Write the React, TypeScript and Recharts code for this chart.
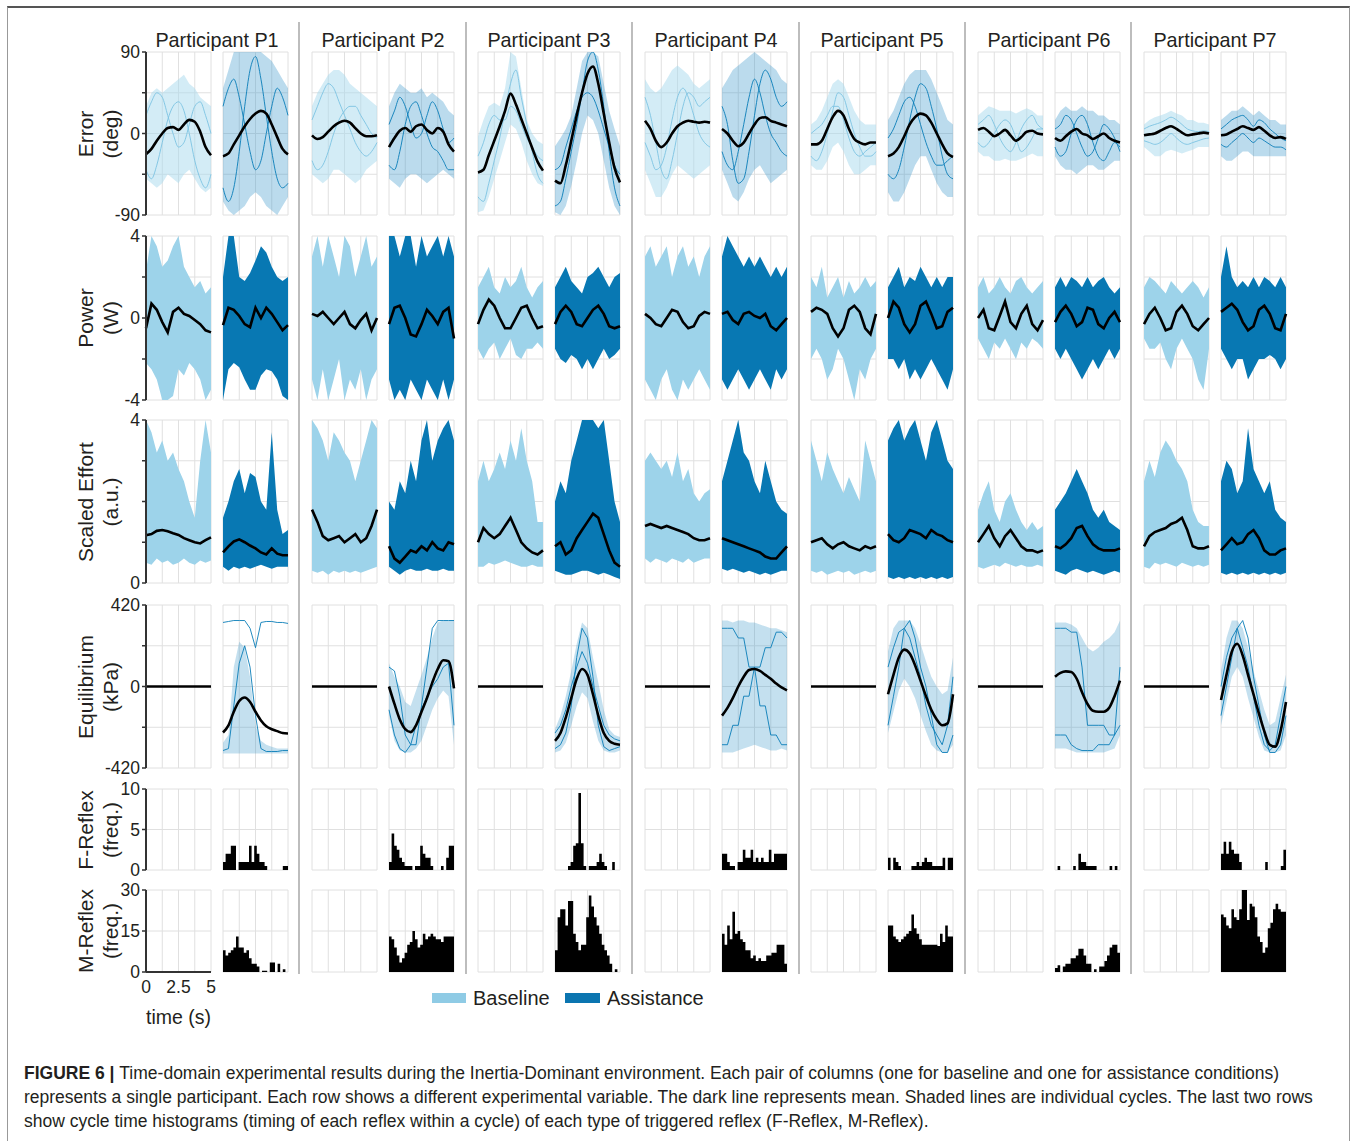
import React from 'react';
import { ComposedChart, Line, Area, XAxis, YAxis, CartesianGrid } from 'recharts';

const FONT = '"Liberation Sans", Arial, Helvetica, sans-serif';
const LIGHT = '#9dd3ea';
const DARK = '#0878b3';
const INK = '#231f20';

// ---------- axes ----------
const TIME = [0, 0.42, 0.83, 1.25, 1.67, 2.08, 2.5, 2.92, 3.33, 3.75, 4.17, 4.58, 5];
const HIST_EDGES = [0, 0.2, 0.4, 0.6, 0.8, 1, 1.2, 1.4, 1.6, 1.8, 2, 2.2, 2.4, 2.6, 2.8, 3, 3.2, 3.4, 3.6, 3.8, 4, 4.2, 4.4, 4.6, 4.8, 5];
const TIME_TICKS = [0, 1.25, 2.5, 3.75, 5];
const TIME_TICK_LABELS = ['0', '', '2.5', '', '5'];

const PARTICIPANTS = ['Participant P1', 'Participant P2', 'Participant P3', 'Participant P4', 'Participant P5', 'Participant P6', 'Participant P7'];

const ERR_TICKS = [-90, -45, 0, 45, 90];
const ERR_TICK_LABELS = ['-90', '', '0', '', '90'];
const PW_TICKS = [-4, -2, 0, 2, 4];
const PW_TICK_LABELS = ['-4', '', '0', '', '4'];
const EF_TICKS = [0, 1, 2, 3, 4];
const EF_TICK_LABELS = ['0', '', '', '', '4'];
const EQ_TICKS = [-420, -210, 0, 210, 420];
const EQ_TICK_LABELS = ['-420', '', '0', '', '420'];
const FR_TICKS = [0, 5, 10];
const FR_TICK_LABELS = ['0', '5', '10'];
const MR_TICKS = [0, 15, 30];
const MR_TICK_LABELS = ['0', '15', '30'];

// ---------- Error (deg) ----------
const errMeanBase = [
  [-23, -17, -8, 0, 6, 7, 4, 10, 15, 13, 2, -15, -24],
  [-2, -6, -4, 2, 8, 12, 14, 12, 6, 0, -3, -3, -2],
  [-43, -40, -24, -8, 8, 25, 44, 32, 16, 0, -16, -31, -41],
  [14, 5, -8, -15, -10, 0, 8, 12, 14, 13, 12, 13, 12],
  [-12, -12, -8, 5, 18, 25, 20, 5, -6, -10, -12, -10, -10],
  [4, 6, 2, -3, 0, 4, -2, -8, -4, 2, 3, 0, -1],
  [-2, -1, 0, 3, 6, 8, 5, 1, -2, -1, 0, 1, 0],
];
const errLoBase = [
  [-50, -55, -60, -55, -45, -50, -55, -45, -40, -50, -60, -65, -60],
  [-45, -50, -55, -50, -40, -40, -45, -50, -55, -50, -40, -35, -30],
  [-87, -85, -70, -50, -30, -10, 10, 5, -10, -30, -45, -55, -58],
  [-40, -55, -70, -70, -60, -45, -35, -40, -45, -50, -45, -40, -35],
  [-35, -40, -40, -30, -15, -10, -20, -35, -45, -45, -40, -35, -35],
  [-20, -25, -25, -30, -30, -28, -30, -30, -28, -25, -22, -25, -25],
  [-15, -20, -25, -25, -20, -18, -20, -22, -20, -18, -15, -15, -15],
];
const errHiBase = [
  [30, 45, 50, 45, 50, 55, 60, 65, 55, 50, 40, 35, 30],
  [30, 45, 55, 65, 70, 70, 65, 55, 50, 45, 40, 35, 30],
  [-3, 15, 30, 34, 30, 50, 90, 85, 50, 15, 0, -8, -12],
  [60, 50, 45, 50, 60, 70, 75, 70, 65, 55, 50, 55, 60],
  [10, 15, 25, 40, 55, 60, 55, 40, 25, 15, 10, 10, 10],
  [20, 25, 30, 28, 25, 25, 25, 22, 25, 28, 25, 20, 20],
  [10, 15, 18, 20, 22, 25, 22, 20, 15, 15, 12, 12, 10],
];
const errTraceBase = [
  [[20, 35, 45, 40, 20, 0, -15, -10, 10, 30, 35, 20, 0], [-40, -50, -35, -10, 15, 30, 35, 25, 0, -30, -50, -60, -45]],
  [[15, 30, 45, 55, 50, 35, 20, 5, -10, -20, -25, -20, -10], [-30, -40, -35, -20, 0, 15, 25, 30, 30, 20, 10, 0, -5]],
  [[-70, -75, -55, -30, -5, 25, 55, 70, 40, 10, -20, -45, -55], [-25, -10, 10, 20, 15, 15, 30, 25, 10, -5, -15, -25, -30]],
  [[40, 20, -10, -40, -50, -30, 0, 30, 45, 40, 30, 35, 40], [-10, -25, -40, -35, -15, 15, 40, 50, 40, 20, 0, -10, -15]],
  [[-25, -30, -20, 0, 25, 45, 40, 20, 0, -15, -25, -25, -20], [0, 5, 10, 20, 30, 30, 15, -5, -20, -25, -20, -15, -10]],
  [[10, 15, 20, 10, -5, -15, -20, -10, 5, 15, 20, 10, 5], [-10, -15, -10, 0, 10, 15, 10, -5, -20, -15, -5, 5, 5]],
  [[5, 8, 10, 12, 15, 18, 15, 10, 5, 3, 2, 3, 2], [-8, -10, -12, -10, -5, 0, -5, -10, -12, -10, -8, -6, -5]],
];
const errMeanAssist = [
  [-25, -22, -12, -2, 8, 16, 22, 25, 22, 10, -4, -17, -23],
  [-15, -5, 3, 6, 2, 8, 10, 4, 0, 6, 2, -12, -20],
  [-52, -55, -35, -8, 20, 45, 66, 74, 55, 22, -10, -38, -54],
  [5, 0, -8, -14, -10, 0, 10, 17, 18, 14, 12, 10, 8],
  [-25, -22, -15, -3, 10, 18, 22, 20, 12, 0, -12, -22, -26],
  [-5, -8, -3, 2, 5, 0, -2, -6, -3, 0, -5, -8, -10],
  [-2, -1, 2, 5, 8, 6, 4, 7, 3, -2, -5, -4, -6],
];
const errLoAssist = [
  [-75, -85, -90, -85, -80, -70, -65, -70, -80, -85, -90, -80, -70],
  [-50, -55, -60, -50, -45, -45, -50, -55, -50, -45, -40, -45, -50],
  [-87, -90, -80, -58, -30, 0, 20, 15, 0, -30, -60, -80, -90],
  [-40, -55, -70, -75, -65, -50, -40, -35, -45, -55, -50, -45, -40],
  [-65, -75, -75, -65, -50, -35, -25, -25, -40, -55, -65, -70, -70],
  [-25, -35, -40, -40, -45, -40, -35, -35, -40, -40, -35, -30, -30],
  [-25, -30, -30, -25, -20, -20, -25, -25, -25, -25, -25, -25, -25],
];
const errHiAssist = [
  [50, 70, 90, 90, 90, 90, 90, 90, 85, 80, 70, 60, 50],
  [30, 45, 55, 50, 45, 45, 50, 40, 45, 40, 35, 25, 20],
  [-14, -5, 5, 20, 50, 80, 90, 90, 85, 55, 25, 5, -14],
  [50, 60, 70, 75, 80, 85, 90, 85, 80, 75, 70, 60, 55],
  [15, 25, 40, 55, 65, 70, 70, 70, 60, 45, 30, 15, 10],
  [15, 25, 30, 25, 25, 30, 25, 25, 20, 20, 15, 15, 10],
  [15, 20, 25, 25, 30, 25, 20, 25, 20, 15, 15, 10, 10],
];
const errTraceAssist = [
  [[-60, -75, -60, -20, 30, 70, 85, 60, 20, -20, -50, -60, -55], [30, 50, 60, 40, 10, -20, -40, -30, 0, 30, 50, 40, 20]],
  [[-35, -40, -20, 10, 30, 35, 20, 0, -15, -20, -30, -40, -40], [10, 25, 40, 30, 10, -5, 0, 20, 35, 25, 5, -10, -5]],
  [[-80, -75, -50, -20, 10, 45, 80, 90, 70, 30, -20, -60, -80], [-40, -35, -15, 5, 25, 40, 45, 40, 25, 5, -15, -35, -45]],
  [[30, 10, -30, -55, -50, -20, 20, 55, 70, 60, 40, 30, 35], [-20, -35, -40, -20, 10, 40, 60, 45, 20, 0, -10, -20, -25]],
  [[-45, -50, -40, -15, 15, 40, 55, 50, 30, 5, -25, -45, -50], [-5, 5, 20, 35, 40, 30, 10, -10, -25, -35, -35, -30, -25]],
  [[-15, -25, -20, 0, 15, 20, 10, -10, -25, -30, -20, -10, -15], [5, 10, 20, 15, 0, -15, -25, -20, -5, 10, 5, -5, -20]],
  [[5, 10, 15, 18, 20, 15, 8, 15, 12, 5, 0, -5, -8], [-12, -15, -10, -5, 0, -5, -10, -5, -8, -12, -15, -15, -18]],
];

// ---------- Power (W) ----------
const pwMeanBase = [
  [-0.5, 0.7, 0.4, -0.2, -0.7, 0.3, 0.5, 0.2, 0.1, -0.1, -0.3, -0.6, -0.7],
  [0.2, 0.1, 0.3, 0, -0.3, 0, 0.3, -0.3, -0.5, -0.1, 0.2, -0.6, 0],
  [-0.3, 0.4, 0.9, 0.6, 0, -0.5, -0.5, 0, 0.5, 0.6, 0, -0.5, -0.4],
  [0.2, 0, -0.3, -0.4, 0, 0.4, 0.3, -0.2, -0.5, -0.4, 0.1, 0.3, 0.2],
  [0.3, 0.5, 0.4, 0.2, -0.5, -0.9, -0.5, 0.4, 0.6, 0.3, -0.5, -0.8, 0.2],
  [0, 0.4, -0.5, -0.6, 0.1, 0.8, -0.2, -0.5, 0.2, 0.6, -0.3, -0.6, -0.1],
  [-0.3, 0.2, 0.5, 0, -0.6, -0.5, 0.3, 0.6, 0.2, -0.4, -0.6, -0.3, 0],
];
const pwHiBase = [
  [2.3, 4, 3.5, 2.5, 2.8, 3.5, 4, 2.5, 2, 1.5, 1.8, 1.2, 1.5],
  [3, 4, 2.5, 4, 3, 2, 4, 3.5, 2, 3, 4, 2.5, 3],
  [1.5, 2, 2.5, 1.5, 1.2, 2, 1.5, 1.8, 2.5, 1.5, 1, 1.5, 1.8],
  [3, 3.5, 2.5, 3, 3.5, 2, 3, 3.5, 2.5, 3, 2, 3, 3.5],
  [2, 1.5, 2.5, 1, 1.5, 2, 1, 1.8, 1.2, 1.5, 2, 1.5, 1.8],
  [1.5, 2, 1.2, 1.5, 2, 1.5, 1.2, 1.8, 2, 1.5, 1.2, 1.5, 1.8],
  [1.5, 2, 1.8, 1.5, 1.2, 1.8, 1.5, 1.2, 1.5, 1.8, 1.5, 1, 1.5],
];
const pwLoBase = [
  [-2.2, -2.5, -3, -4, -4, -3.8, -2.5, -2.8, -2.2, -2.5, -3, -4, -3.5],
  [-3, -4, -2.5, -4, -3, -2, -4, -3, -3.5, -2.5, -4, -3, -2.5],
  [-1.5, -2, -1.5, -1.2, -2, -1.5, -1, -1.8, -2, -1.5, -1.5, -1.2, -1.5],
  [-3, -3.5, -4, -3, -2.5, -3.5, -4, -3, -3.5, -3, -2.5, -3, -3.5],
  [-2, -1.5, -2, -3, -2.5, -1.5, -2, -3, -4, -2.5, -3, -2, -1.5],
  [-1, -1.5, -2, -1.2, -1.5, -1, -1.5, -2, -1.2, -1.5, -1, -1.2, -1.5],
  [-1, -1.5, -1.5, -1.2, -2, -2.5, -1.5, -1, -1.5, -2, -3, -3.5, -1.5],
];
const pwMeanAssist = [
  [-0.35, 0.5, 0.4, 0.1, -0.3, -0.45, 0.5, 0, 0.5, 0.2, -0.2, -0.6, -0.35],
  [-0.3, 0.5, 0.6, 0, -0.8, -0.9, -0.3, 0.4, 0.1, -0.3, 0.3, 0.5, -1.0],
  [-0.3, 0.3, 0.6, 0.3, -0.3, -0.4, 0, 0.4, 0.6, 0.2, -0.4, -0.5, -0.4],
  [0.2, 0.3, -0.1, -0.3, 0.2, 0.3, 0.1, 0, 0.2, -0.4, -0.6, -0.3, 0],
  [0, 0.8, 0.5, -0.3, -0.7, -0.3, 0.6, 0.8, 0.2, -0.5, -0.4, 0.3, 0.5],
  [-0.2, 0.3, 0.6, 0.2, -0.4, -0.2, 0.5, 0.4, -0.3, -0.5, 0, 0.3, -0.2],
  [0.3, 0.5, 0.7, 0.4, -0.2, -0.6, -0.4, 0.4, 0.6, 0.2, -0.5, -0.6, 0.2],
];
const pwHiAssist = [
  [2, 4, 4, 2, 1.8, 2.2, 2.8, 3.5, 3.2, 2.5, 2, 1.8, 2],
  [4, 4, 3, 4, 4, 2.5, 4, 3, 3.5, 4, 3, 4, 3],
  [1.5, 2, 2.5, 1.8, 1.5, 1.2, 2, 2.2, 2.5, 2, 1.5, 2, 2.2],
  [3, 4, 3.5, 3, 2.5, 3, 2.5, 3, 2.5, 2, 2.5, 2, 2.5],
  [1.5, 2, 2.5, 1.5, 2, 1.8, 2.5, 2, 1.5, 2, 1.5, 2, 2],
  [1.5, 2, 1.5, 2, 1.8, 1.5, 2, 1.5, 1.8, 2, 1.5, 1.2, 1.5],
  [2, 3.5, 2, 1.5, 1.8, 1.5, 2, 1.5, 2, 1.8, 1.5, 2, 1.5],
];
const pwLoAssist = [
  [-4, -2.5, -2.2, -2.4, -3, -3.5, -3.5, -2.8, -2.5, -2.6, -3, -3.8, -4],
  [-3, -4, -3.5, -4, -3, -3.5, -4, -3, -3.5, -4, -3, -4, -3],
  [-1.5, -2, -2.2, -1.8, -2, -2.5, -2, -2.5, -2, -1.5, -2, -1.8, -1.5],
  [-3, -3.5, -3, -2.5, -3, -3.5, -3, -2.5, -3, -3.5, -2.5, -3, -2.5],
  [-2, -2, -2.5, -2, -3, -2.5, -3, -2.5, -2, -2.5, -3, -3.5, -2.5],
  [-1.5, -2, -1.5, -2, -2.5, -3, -2.5, -2, -2.5, -2, -1.5, -2, -1.5],
  [-1.5, -2, -2.5, -2, -2, -3, -2.5, -2, -2, -1.8, -2, -2.5, -2],
];

// ---------- Scaled Effort (a.u.) ----------
const efMeanBase = [
  [1.17, 1.2, 1.28, 1.3, 1.27, 1.22, 1.18, 1.1, 1.05, 1.0, 0.97, 1.05, 1.12],
  [1.8, 1.5, 1.15, 1.05, 1.1, 1.15, 1.0, 1.1, 1.2, 1.0, 1.1, 1.4, 1.8],
  [1.0, 1.35, 1.2, 1.1, 1.2, 1.4, 1.6, 1.3, 1.0, 0.85, 0.75, 0.7, 0.8],
  [1.4, 1.45, 1.4, 1.35, 1.4, 1.35, 1.3, 1.25, 1.2, 1.1, 1.05, 1.05, 1.1],
  [1.0, 1.05, 1.1, 0.95, 0.85, 0.95, 1.0, 0.9, 0.85, 0.8, 0.9, 0.85, 0.9],
  [1.0, 1.2, 1.4, 1.1, 0.9, 1.15, 1.3, 1.1, 0.9, 0.8, 0.8, 0.75, 0.8],
  [0.9, 1.15, 1.25, 1.3, 1.35, 1.45, 1.5, 1.6, 1.3, 0.9, 0.85, 0.85, 0.9],
];
const efHiBase = [
  [4, 3.7, 3.2, 3.5, 3, 3.2, 2.8, 2.5, 2.0, 1.6, 3.0, 4, 3.2],
  [4, 3.8, 3.5, 3, 3.7, 3.5, 3.2, 3, 2.5, 3, 3.5, 4, 3.8],
  [2.5, 3, 2.5, 2.8, 3.2, 2.8, 3.5, 3, 3.8, 3.0, 2.5, 1.5, 1.5],
  [3, 3.2, 3, 2.8, 3, 2.6, 3.2, 2.5, 2.8, 2.2, 2.0, 2.2, 2.3],
  [3.5, 3, 2.5, 3.2, 2.8, 2.5, 2.2, 2.6, 2.3, 2, 3.5, 3, 2.5],
  [1.8, 2.2, 2.5, 1.8, 1.5, 2.0, 2.2, 1.8, 1.5, 1.3, 1.5, 1.3, 1.4],
  [2.5, 3.0, 2.6, 3.2, 3.5, 3.3, 3.0, 2.8, 2.5, 1.8, 1.5, 1.4, 1.4],
];
const efLoBase = [
  [0.5, 0.45, 0.6, 0.5, 0.55, 0.45, 0.5, 0.6, 0.5, 0.45, 0.55, 0.5, 0.55],
  [0.3, 0.25, 0.3, 0.2, 0.3, 0.25, 0.3, 0.25, 0.3, 0.25, 0.3, 0.35, 0.4],
  [0.4, 0.4, 0.5, 0.45, 0.5, 0.55, 0.5, 0.45, 0.4, 0.4, 0.45, 0.4, 0.4],
  [0.6, 0.5, 0.6, 0.55, 0.5, 0.6, 0.55, 0.5, 0.6, 0.5, 0.55, 0.6, 0.6],
  [0.3, 0.25, 0.3, 0.2, 0.25, 0.3, 0.25, 0.3, 0.2, 0.25, 0.3, 0.25, 0.3],
  [0.4, 0.35, 0.4, 0.45, 0.4, 0.5, 0.45, 0.4, 0.45, 0.4, 0.4, 0.45, 0.4],
  [0.4, 0.35, 0.5, 0.45, 0.5, 0.45, 0.4, 0.5, 0.45, 0.4, 0.45, 0.4, 0.45],
];
const efMeanAssist = [
  [0.75, 0.9, 1.02, 1.07, 1.0, 0.92, 0.85, 0.75, 0.7, 0.85, 0.72, 0.68, 0.68],
  [0.9, 0.6, 0.5, 0.65, 0.8, 0.75, 0.9, 0.8, 1.0, 0.85, 0.8, 1.0, 0.95],
  [0.9, 1.0, 0.7, 0.8, 1.1, 1.3, 1.5, 1.7, 1.6, 1.2, 0.8, 0.5, 0.4],
  [1.1, 1.05, 1.0, 0.95, 0.9, 0.85, 0.8, 0.75, 0.65, 0.6, 0.6, 0.75, 0.9],
  [1.2, 1.05, 1.0, 1.1, 1.3, 1.25, 1.2, 1.1, 1.3, 1.2, 1.15, 1.05, 1.0],
  [0.9, 0.85, 0.95, 1.1, 1.35, 1.4, 1.15, 0.95, 0.85, 0.8, 0.8, 0.8, 0.85],
  [0.8, 0.95, 1.1, 0.95, 1.0, 1.2, 1.3, 1.1, 0.8, 0.7, 0.7, 0.8, 0.85],
];
const efHiAssist = [
  [1.6, 2.0, 2.5, 2.8, 2.2, 2.7, 2.6, 2.0, 1.8, 3.7, 1.8, 1.2, 1.3],
  [2, 1.8, 2.5, 2.2, 3, 2.5, 3.5, 4, 3.0, 3.5, 3.8, 4, 3.5],
  [2, 2.5, 2.2, 3, 3.5, 4, 4, 4, 3.8, 4, 3, 2, 1.5],
  [2.5, 3, 3.5, 4, 3.2, 3, 2.5, 2.2, 3, 2.5, 2, 1.8, 1.7],
  [3.5, 3.8, 4, 3.5, 3.8, 4, 3.5, 3, 3.7, 4, 3.5, 3, 2.8],
  [1.8, 2, 2.2, 2.5, 2.8, 2.5, 2.2, 1.8, 1.6, 1.8, 1.5, 1.4, 1.3],
  [2.5, 3, 2.8, 2.2, 2.5, 3.8, 2.8, 2.5, 2.2, 2.5, 1.8, 1.6, 1.5],
];
const efLoAssist = [
  [0.4, 0.3, 0.4, 0.35, 0.4, 0.35, 0.4, 0.45, 0.4, 0.35, 0.4, 0.4, 0.4],
  [0.4, 0.3, 0.2, 0.3, 0.35, 0.3, 0.3, 0.35, 0.3, 0.3, 0.35, 0.3, 0.3],
  [0.3, 0.25, 0.2, 0.2, 0.25, 0.3, 0.3, 0.25, 0.2, 0.25, 0.2, 0.15, 0.1],
  [0.35, 0.3, 0.35, 0.3, 0.25, 0.3, 0.25, 0.2, 0.25, 0.2, 0.25, 0.3, 0.3],
  [0.15, 0.1, 0.15, 0.1, 0.15, 0.1, 0.15, 0.1, 0.15, 0.1, 0.15, 0.1, 0.15],
  [0.3, 0.25, 0.2, 0.3, 0.35, 0.3, 0.25, 0.3, 0.25, 0.2, 0.25, 0.3, 0.25],
  [0.25, 0.2, 0.25, 0.2, 0.25, 0.2, 0.25, 0.2, 0.25, 0.2, 0.25, 0.2, 0.25],
];

// ---------- Equilibrium (kPa) ----------
const eqMeanBase = [0, 0, 0, 0, 0, 0, 0, 0, 0, 0, 0, 0, 0];
const eqMeanAssist = [
  [-237, -200, -130, -75, -57, -80, -130, -175, -205, -220, -230, -240, -242],
  [0, -90, -170, -220, -235, -200, -130, -60, 20, 90, 135, 130, -10],
  [-280, -240, -160, -60, 40, 90, 60, -40, -150, -240, -280, -295, -300],
  [-150, -110, -60, 0, 50, 85, 90, 80, 60, 40, 15, -5, -20],
  [-40, 60, 150, 190, 170, 110, 30, -50, -120, -170, -200, -190, -40],
  [50, 70, 78, 75, 40, -30, -90, -125, -130, -130, -110, -50, 30],
  [-70, 60, 180, 220, 160, 60, -40, -140, -230, -300, -310, -230, -80],
];
const eqLoAssist = [
  [-345, -345, -345, -345, -345, -345, -345, -345, -345, -345, -345, -345, -345],
  [-150, -280, -330, -340, -340, -320, -280, -200, -120, -60, -20, -50, -300],
  [-340, -330, -290, -200, -100, -30, -60, -180, -280, -330, -340, -340, -330],
  [-340, -340, -340, -330, -320, -310, -300, -310, -320, -330, -330, -320, -330],
  [-240, -130, -20, 40, 0, -60, -150, -230, -300, -330, -340, -340, -300],
  [-320, -320, -320, -330, -340, -340, -340, -340, -340, -340, -330, -320, -250],
  [-200, -80, 50, 100, 50, -60, -160, -260, -330, -340, -340, -330, -250],
];
const eqHiAssist = [
  [-290, -250, 100, 230, 200, 50, -200, -280, -300, -310, -320, -320, -320],
  [120, 50, 0, -80, -100, -20, 60, 150, 250, 330, 340, 340, 340],
  [-220, -150, -50, 80, 220, 330, 300, 150, 20, -120, -220, -250, -260],
  [340, 340, 330, 340, 340, 330, 330, 320, 310, 300, 300, 290, 280],
  [180, 300, 340, 340, 340, 300, 220, 130, 50, 0, -40, -20, 150],
  [330, 330, 330, 320, 300, 250, 200, 180, 200, 230, 250, 280, 340],
  [80, 250, 340, 340, 300, 200, 80, -20, -120, -200, -180, -60, 60],
];
const eqTraceAssist = [
  [[330, 335, 340, 340, 340, 300, 200, 330, 335, 335, 330, 330, 325], [-330, -320, -100, 120, 210, 100, -150, -320, -335, -335, -335, -330, -330]],
  [[100, 80, -50, -250, -300, -300, -100, 100, 300, 340, 340, 340, 340], [-120, -250, -320, -340, -300, -200, -120, -50, 0, 40, 100, 120, -200]],
  [[-320, -300, -240, -100, 150, 300, 250, 50, -200, -310, -330, -320, -310], [-240, -200, -120, 0, 100, 180, 120, 0, -100, -200, -250, -270, -280]],
  [[300, 300, 300, 250, 250, 100, 100, -100, -100, -250, -250, -300, -300], [-300, -300, -200, -200, -50, -50, 100, 100, 200, 200, 280, 280, 250]],
  [[-200, -50, 100, 300, 340, 250, 100, 0, -150, -300, -340, -340, -250], [100, 200, 280, 300, 250, 150, 50, -100, -200, -250, -300, -200, 50]],
  [[300, 300, 300, 280, 280, 100, -200, -200, -200, -200, -250, -250, 100], [-250, -250, -250, -300, -320, -330, -330, -330, -300, -300, -300, -250, -200]],
  [[-150, 0, 150, 300, 340, 250, 50, -100, -250, -340, -340, -300, -150], [0, 150, 250, 300, 200, 100, -50, -200, -300, -330, -300, -150, 0]],
];

// ---------- reflex histograms (assistance only; baseline has none) ----------
const frAssist = [
  [1, 2, 2, 3, 3, 0, 1, 1, 1, 1, 3, 1, 3, 2, 1, 1, 0.5, 0, 0, 0, 0, 0, 0, 0.5, 0.5],
  [1, 4.5, 3, 2.5, 1.5, 1, 0.5, 0.5, 0.5, 0, 0.5, 0.5, 3, 2, 1.5, 1.5, 0.5, 0, 0, 0, 0.5, 0, 1.5, 3, 3],
  [0, 0, 0, 0, 0, 0.5, 1, 3, 3.3, 9.5, 3.3, 0.5, 0, 0.5, 0.5, 0.5, 1, 2, 1, 0.5, 0, 0, 1, 0, 0],
  [2, 2, 1, 0.5, 0.5, 0, 1, 1, 2.5, 1.5, 1.5, 2.5, 1, 1.5, 1, 1.5, 1, 1, 2.5, 1, 2, 2, 2, 2, 2],
  [1.5, 0, 1.5, 1, 0.5, 0, 0, 0, 0, 0.5, 0.5, 1, 0.5, 1, 1.5, 1, 1, 0.5, 0.5, 0.5, 0.5, 1.5, 0, 1.5, 1.5],
  [0, 0.5, 0, 0, 0, 0, 0, 0.5, 0, 2, 1, 1, 0.5, 0.5, 0.5, 0.5, 0, 0, 0, 0, 0, 0.5, 0, 0.5, 0],
  [2, 3.5, 2, 3.5, 2.5, 2, 2, 1, 0, 0, 0, 0, 0, 0, 0, 0, 0, 1, 0, 0, 0, 0, 0, 0.5, 2.5],
];
const mrAssist = [
  [8, 6, 7, 8, 9, 13, 9, 9, 7, 8, 5, 3, 3, 2, 0, 0.5, 0.5, 0, 3.5, 3.5, 0, 3, 0, 1, 0],
  [13, 12, 9, 6, 3.5, 5, 7, 10, 11, 15, 12, 9, 10, 14, 12, 13, 14, 13, 12, 12, 11, 13, 13, 13, 13],
  [8, 20, 23, 23, 17, 26, 26, 14, 11, 8, 10, 10, 20, 28, 24, 20, 17, 14, 10, 8, 6, 3, 0, 1, 0],
  [14, 10, 17, 12, 22, 14, 15, 12, 11, 8, 8, 5, 6, 4, 5, 4, 4, 6, 6, 7, 7, 10, 10, 10, 3],
  [17, 17, 13, 12, 11, 12, 13, 14, 15, 21, 16, 14, 12, 10, 10, 10, 10, 10, 10, 9.5, 14, 11, 17, 13, 13],
  [1.5, 2.5, 0, 2, 3, 3, 5, 5, 6, 8.5, 8.5, 6, 3, 3, 0, 1, 0, 2, 2, 4, 6, 9, 10, 10, 7],
  [21, 20, 17, 16, 23, 20, 19, 23, 30, 30, 19, 25, 24, 20, 13, 11, 7, 9, 16, 18, 23, 25, 23, 22, 22],
];

const CAPTION = [
  'Time-domain experimental results during the Inertia-Dominant environment. Each pair of columns (one for baseline and one for assistance conditions)',
  'represents a single participant. Each row shows a different experimental variable. The dark line represents mean. Shaded lines are individual cycles. The last two rows',
  'show cycle time histograms (timing of each reflex within a cycle) of each type of triggered reflex (F-Reflex, M-Reflex).',
];

// ---------- layout ----------
const PAIR_LEFT = [146, 312, 478, 645, 811, 978, 1144];
const ASSIST_DX = 77;
const PANEL_W = 65;
const M = 12;
const Y_W = 54;
const X_H = 50;
const SEPARATORS = [299, 466, 632, 799, 965, 1131];

type RowDef = {
  top: number;
  h: number;
  ticks: number[];
  labels: string[];
  title: string[];
  kind: 'line' | 'hist';
};

const ROWS: RowDef[] = [
  { top: 52, h: 163, ticks: ERR_TICKS, labels: ERR_TICK_LABELS, title: ['Error', '(deg)'], kind: 'line' },
  { top: 236, h: 164, ticks: PW_TICKS, labels: PW_TICK_LABELS, title: ['Power', '(W)'], kind: 'line' },
  { top: 420, h: 163, ticks: EF_TICKS, labels: EF_TICK_LABELS, title: ['Scaled Effort', '(a.u.)'], kind: 'line' },
  { top: 605, h: 163, ticks: EQ_TICKS, labels: EQ_TICK_LABELS, title: ['Equilibrium', '(kPa)'], kind: 'line' },
  { top: 789, h: 81, ticks: FR_TICKS, labels: FR_TICK_LABELS, title: ['F-Reflex', '(freq.)'], kind: 'hist' },
  { top: 890, h: 82, ticks: MR_TICKS, labels: MR_TICK_LABELS, title: ['M-Reflex', '(freq.)'], kind: 'hist' },
];

type LineSet = { mean: number[]; lo?: number[]; hi?: number[]; traces?: number[][] };

function lineRows(s: LineSet) {
  return TIME.map((t, i) => ({
    t,
    mean: s.mean[i],
    band: s.lo && s.hi ? [s.lo[i], s.hi[i]] : undefined,
    tr0: s.traces ? s.traces[0][i] : undefined,
    tr1: s.traces ? s.traces[1][i] : undefined,
  }));
}

function histRows(bins: number[] | null) {
  return HIST_EDGES.map((t, i) => ({ t, v: bins ? bins[Math.min(i, bins.length - 1)] : 0 }));
}

type Style = { fill: string; fillOpacity: number; trace?: string; traceOpacity?: number; traceType?: 'monotone' | 'linear' };

function Panel(props: {
  x: number;
  row: RowDef;
  showY: boolean;
  showX: boolean;
  data: any[];
  style?: Style;
  hasBand?: boolean;
  hasTraces?: boolean;
  hasMean?: boolean;
  meanType?: 'monotone' | 'linear';
  hist?: boolean;
}) {
  const { x, row, showY, showX, data, style, hasBand, hasTraces, hasMean, meanType, hist } = props;
  const extraL = showY ? Y_W : 0;
  const w = PANEL_W + 2 * M + extraL;
  const h = row.h + 2 * M + (showX ? X_H : 0);
  const tickStyle = { fontSize: 17.5, fill: INK, fontFamily: FONT };
  return (
    <div style={{ position: 'absolute', left: x - M - extraL, top: row.top - M, width: w, height: h }}>
      <ComposedChart width={w} height={h} data={data} margin={{ top: M, right: M, bottom: M, left: M }}>
        <CartesianGrid stroke="#e0e0e0" strokeWidth={1} />
        <XAxis
          dataKey="t"
          type="number"
          domain={[0, 5]}
          ticks={TIME_TICKS}
          interval={0}
          hide={!showX}
          height={X_H}
          axisLine={{ stroke: '#333', strokeWidth: 2 }}
          tickLine={false}
          tickSize={3}
          tickMargin={6}
          tick={tickStyle}
          tickFormatter={(v: number) => TIME_TICK_LABELS[TIME_TICKS.indexOf(v)] ?? ''}
          label={{ value: 'time (s)', position: 'insideBottom', offset: -2, fontSize: 19.5, fill: INK, fontFamily: FONT }}
        />
        <YAxis
          type="number"
          domain={[row.ticks[0], row.ticks[row.ticks.length - 1]]}
          ticks={row.ticks}
          interval={0}
          allowDataOverflow
          hide={!showY}
          width={Y_W}
          axisLine={{ stroke: '#333', strokeWidth: 2 }}
          tickLine={{ stroke: '#333', strokeWidth: 1.5 }}
          tickSize={4}
          tick={tickStyle}
          tickFormatter={(v: number) => row.labels[row.ticks.indexOf(v)] ?? ''}
        />
        {hist && (
          <Area dataKey="v" type="stepAfter" stroke="none" fill="#000" fillOpacity={1} baseValue={0} isAnimationActive={false} />
        )}
        {hasBand && style && (
          <Area dataKey="band" type="linear" stroke="none" fill={style.fill} fillOpacity={style.fillOpacity} isAnimationActive={false} />
        )}
        {hasTraces && style && (
          <Line dataKey="tr0" type={style.traceType ?? 'monotone'} stroke={style.trace} strokeOpacity={style.traceOpacity} strokeWidth={1} dot={false} isAnimationActive={false} />
        )}
        {hasTraces && style && (
          <Line dataKey="tr1" type={style.traceType ?? 'monotone'} stroke={style.trace} strokeOpacity={style.traceOpacity} strokeWidth={1} dot={false} isAnimationActive={false} />
        )}
        {hasMean && (
          <Line dataKey="mean" type={meanType ?? 'monotone'} stroke="#000" strokeWidth={2.6} dot={false} isAnimationActive={false} />
        )}
      </ComposedChart>
    </div>
  );
}

const errBaseStyle: Style = { fill: '#a8d9ee', fillOpacity: 0.5, trace: '#7cc3e2', traceOpacity: 0.9 };
const errAssistStyle: Style = { fill: '#3b98cb', fillOpacity: 0.35, trace: '#0a7db8', traceOpacity: 0.9 };
const solidBase: Style = { fill: LIGHT, fillOpacity: 1 };
const solidAssist: Style = { fill: DARK, fillOpacity: 1 };
const eqAssistStyle: Style = { fill: '#3b98cb', fillOpacity: 0.3, trace: '#0a7db8', traceOpacity: 0.9, traceType: 'linear' };

function RowLabel({ cy, lines }: { cy: number; lines: string[] }) {
  return (
    <>
      {lines.map((txt, i) => (
        <div
          key={txt}
          style={{
            position: 'absolute',
            left: 86 + i * 25,
            top: cy,
            transform: 'translate(-50%, -50%) rotate(-90deg)',
            whiteSpace: 'nowrap',
            fontSize: 21,
            lineHeight: '24px',
            color: INK,
          }}
        >
          {txt}
        </div>
      ))}
    </>
  );
}

export default function App() {
  const panels: React.ReactNode[] = [];
  PAIR_LEFT.forEach((px, p) => {
    const bx = px;
    const ax = px + ASSIST_DX;
    const first = p === 0;
    // Error
    panels.push(
      <Panel key={`e-b-${p}`} x={bx} row={ROWS[0]} showY={first} showX={false} style={errBaseStyle} hasBand hasTraces hasMean
        data={lineRows({ mean: errMeanBase[p], lo: errLoBase[p], hi: errHiBase[p], traces: errTraceBase[p] })} />,
      <Panel key={`e-a-${p}`} x={ax} row={ROWS[0]} showY={false} showX={false} style={errAssistStyle} hasBand hasTraces hasMean
        data={lineRows({ mean: errMeanAssist[p], lo: errLoAssist[p], hi: errHiAssist[p], traces: errTraceAssist[p] })} />,
    );
    // Power
    panels.push(
      <Panel key={`p-b-${p}`} x={bx} row={ROWS[1]} showY={first} showX={false} style={solidBase} hasBand hasMean meanType="linear"
        data={lineRows({ mean: pwMeanBase[p], lo: pwLoBase[p], hi: pwHiBase[p] })} />,
      <Panel key={`p-a-${p}`} x={ax} row={ROWS[1]} showY={false} showX={false} style={solidAssist} hasBand hasMean meanType="linear"
        data={lineRows({ mean: pwMeanAssist[p], lo: pwLoAssist[p], hi: pwHiAssist[p] })} />,
    );
    // Effort
    panels.push(
      <Panel key={`s-b-${p}`} x={bx} row={ROWS[2]} showY={first} showX={false} style={solidBase} hasBand hasMean meanType="linear"
        data={lineRows({ mean: efMeanBase[p], lo: efLoBase[p], hi: efHiBase[p] })} />,
      <Panel key={`s-a-${p}`} x={ax} row={ROWS[2]} showY={false} showX={false} style={solidAssist} hasBand hasMean meanType="linear"
        data={lineRows({ mean: efMeanAssist[p], lo: efLoAssist[p], hi: efHiAssist[p] })} />,
    );
    // Equilibrium
    panels.push(
      <Panel key={`q-b-${p}`} x={bx} row={ROWS[3]} showY={first} showX={false} hasMean meanType="linear"
        data={lineRows({ mean: eqMeanBase })} />,
      <Panel key={`q-a-${p}`} x={ax} row={ROWS[3]} showY={false} showX={false} style={eqAssistStyle} hasBand hasTraces hasMean
        data={lineRows({ mean: eqMeanAssist[p], lo: eqLoAssist[p], hi: eqHiAssist[p], traces: eqTraceAssist[p] })} />,
    );
    // Reflex histograms
    panels.push(
      <Panel key={`f-b-${p}`} x={bx} row={ROWS[4]} showY={first} showX={false} hist data={histRows(null)} />,
      <Panel key={`f-a-${p}`} x={ax} row={ROWS[4]} showY={false} showX={false} hist data={histRows(frAssist[p])} />,
      <Panel key={`m-b-${p}`} x={bx} row={ROWS[5]} showY={first} showX={first} hist data={histRows(null)} />,
      <Panel key={`m-a-${p}`} x={ax} row={ROWS[5]} showY={false} showX={false} hist data={histRows(mrAssist[p])} />,
    );
  });

  return (
    <div
      style={{
        position: 'absolute',
        left: 0,
        top: 0,
        width: 1356,
        height: 1141,
        background: '#fff',
        fontFamily: FONT,
        color: INK,
        overflow: 'hidden',
      }}
    >
      {/* outer frame */}
      <div
        style={{
          position: 'absolute',
          left: 7,
          top: 6,
          width: 1341,
          height: 1140,
          borderTop: '2px solid #555',
          borderLeft: '1px solid #999',
          borderRight: '1px solid #999',
        }}
      />

      {PARTICIPANTS.map((name, p) => (
        <div
          key={name}
          style={{
            position: 'absolute',
            left: PAIR_LEFT[p] + (PANEL_W + ASSIST_DX) / 2,
            top: 40,
            transform: 'translate(-50%, -50%)',
            whiteSpace: 'nowrap',
            fontSize: 19.8,
          }}
        >
          {name}
        </div>
      ))}

      {SEPARATORS.map((sx) => (
        <div key={sx} style={{ position: 'absolute', left: sx - 1, top: 22, width: 2, height: 952, background: '#bdbdbd' }} />
      ))}

      {ROWS.map((r) => (
        <RowLabel key={r.title[0]} cy={r.top + r.h / 2} lines={r.title} />
      ))}

      {panels}

      {/* legend */}
      <div style={{ position: 'absolute', left: 432, top: 993, width: 34, height: 10, background: '#8fcbe5' }} />
      <div style={{ position: 'absolute', left: 473, top: 986, fontSize: 20, lineHeight: '24px', whiteSpace: 'nowrap' }}>Baseline</div>
      <div style={{ position: 'absolute', left: 565, top: 993, width: 35, height: 10, background: '#0b75b0' }} />
      <div style={{ position: 'absolute', left: 607, top: 986, fontSize: 20, lineHeight: '24px', whiteSpace: 'nowrap' }}>Assistance</div>

      {/* caption */}
      <div style={{ position: 'absolute', left: 24, top: 1061, fontSize: 17.5, lineHeight: '24px', whiteSpace: 'nowrap' }}>
        {CAPTION.map((line, i) => (
          <div key={i}>
            {i === 0 && <b>FIGURE 6 | </b>}
            {line}
          </div>
        ))}
      </div>
    </div>
  );
}
